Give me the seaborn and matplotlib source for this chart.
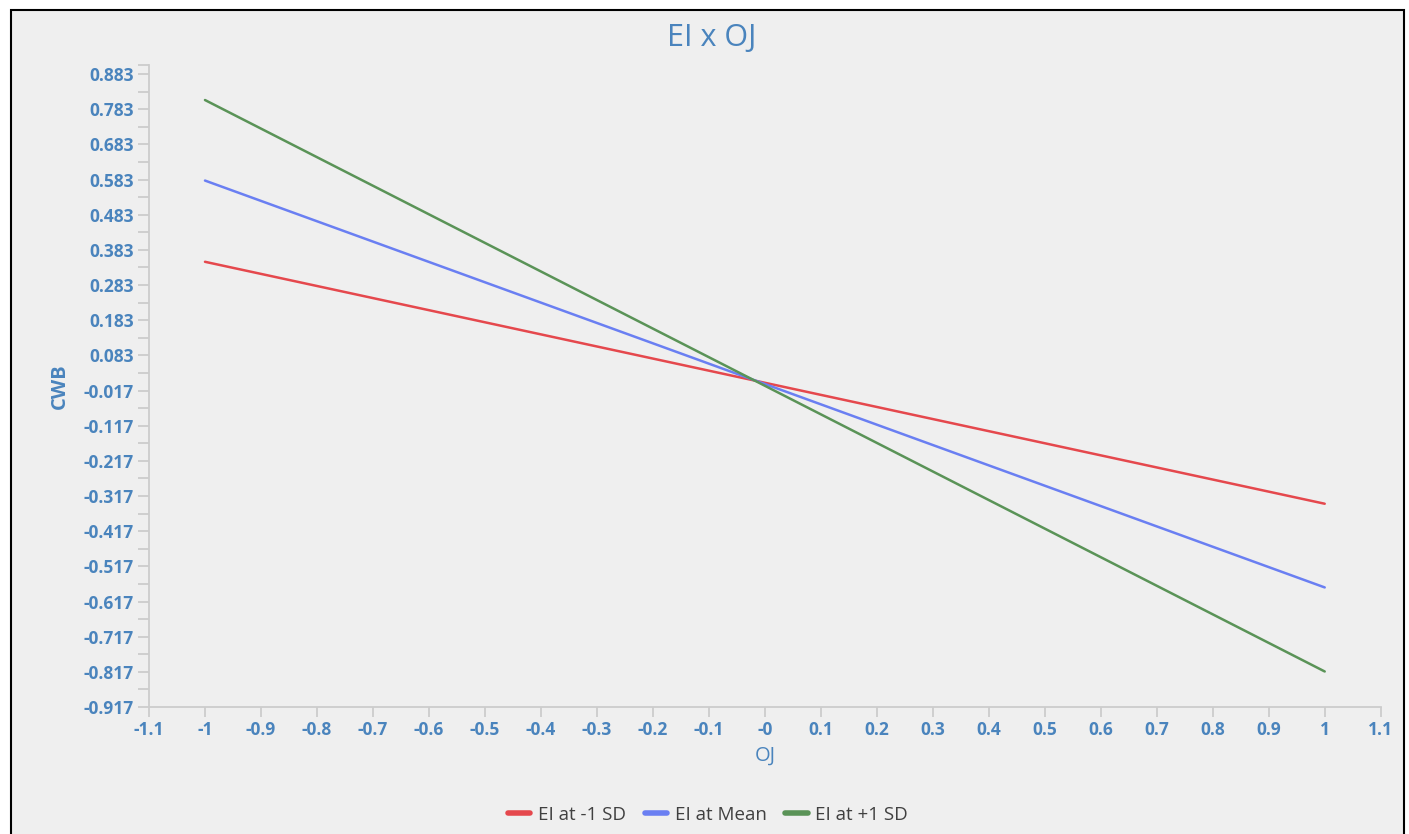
import numpy as np
import pandas as pd
import matplotlib
matplotlib.use("Agg")
import matplotlib.pyplot as plt
from matplotlib.patches import Rectangle
import seaborn as sns

# ---- data ----
oj_values = [-1.0, 1.0]
series_names = ["EI at -1 SD", "EI at Mean", "EI at +1 SD"]
cwb_low = [0.349, -0.339]
cwb_mean = [0.580, -0.577]
cwb_high = [0.809, -0.816]
series_colors = ["#e5484d", "#6a7ff2", "#5a9357"]

y_tick_values = [round(-0.917 + 0.1 * k, 3) for k in range(19)]
x_tick_values = [round(-1.1 + 0.1 * k, 1) for k in range(23)]
x_tick_labels = ["-1.1", "-1", "-0.9", "-0.8", "-0.7", "-0.6", "-0.5", "-0.4", "-0.3",
                 "-0.2", "-0.1", "-0", "0.1", "0.2", "0.3", "0.4", "0.5", "0.6", "0.7",
                 "0.8", "0.9", "1", "1.1"]
title = "EI x OJ"
x_label = "OJ"
y_label = "CWB"

df = pd.DataFrame({
    "OJ": oj_values * 3,
    "CWB": cwb_low + cwb_mean + cwb_high,
    "series": [series_names[0]] * 2 + [series_names[1]] * 2 + [series_names[2]] * 2,
})

sns.set_style("ticks")
plt.rcParams["font.family"] = ["Open Sans", "DejaVu Sans"]

W, H = 1409, 834
fig = plt.figure(figsize=(W / 100, H / 100), dpi=100, facecolor="white")
fig.patches.append(Rectangle((11 / W, -0.02), (1404 - 11) / W, (H - 10) / H + 0.02,
                             transform=fig.transFigure, facecolor="#efefef",
                             edgecolor="black", linewidth=1.5, zorder=-10))

ax = fig.add_axes([149 / W, 1 - 707 / H, (1380.7 - 149) / W, (707 - 65) / H])
ax.set_zorder(5)
ax.set_facecolor("none")

sns.lineplot(data=df, x="OJ", y="CWB", hue="series", hue_order=series_names,
             palette=series_colors, linewidth=1.8, ax=ax, legend=True)

ax.set_xlim(-1.1, 1.1)
ax.set_ylim(-0.917, 0.9086)

text_color = "#4a84bd"
ax.set_xticks(x_tick_values)
ax.set_xticklabels(x_tick_labels)
ax.set_yticks(y_tick_values)
ax.set_yticklabels([f"{v:.3f}" for v in y_tick_values])
ax.set_yticks([round(v + 0.05, 3) for v in y_tick_values[:-1]] + [0.9086], minor=True)

ax.tick_params(axis="both", which="both", colors="#cccccc", labelcolor=text_color,
               labelsize=12.5, width=1.3)
ax.tick_params(axis="y", which="both", length=8, pad=3)
ax.tick_params(axis="x", which="major", length=7, pad=3)
for lbl in ax.get_xticklabels() + ax.get_yticklabels():
    lbl.set_fontweight("bold")

for side in ["top", "right"]:
    ax.spines[side].set_visible(False)
for side in ["left", "bottom"]:
    ax.spines[side].set_color("#cccccc")
    ax.spines[side].set_linewidth(1.3)

ax.set_xlabel(x_label, color=text_color, fontsize=14.5, labelpad=5)
ax.set_ylabel(y_label, color=text_color, fontsize=14.5, labelpad=10, fontweight="bold")

fig.text(712 / W, 1 - 38 / H, title, ha="center", va="center", color=text_color,
         fontsize=22)

leg = ax.legend(loc="center", bbox_to_anchor=(708 / W, 1 - 815 / H),
                bbox_transform=fig.transFigure, ncol=3, frameon=False,
                fontsize=13.5, handlelength=1.2, handletextpad=0.4, columnspacing=1.0)
for line in leg.get_lines():
    line.set_linewidth(4)
for t in leg.get_texts():
    t.set_color("#404040")

fig.savefig("out.png", dpi=100, facecolor="white")
